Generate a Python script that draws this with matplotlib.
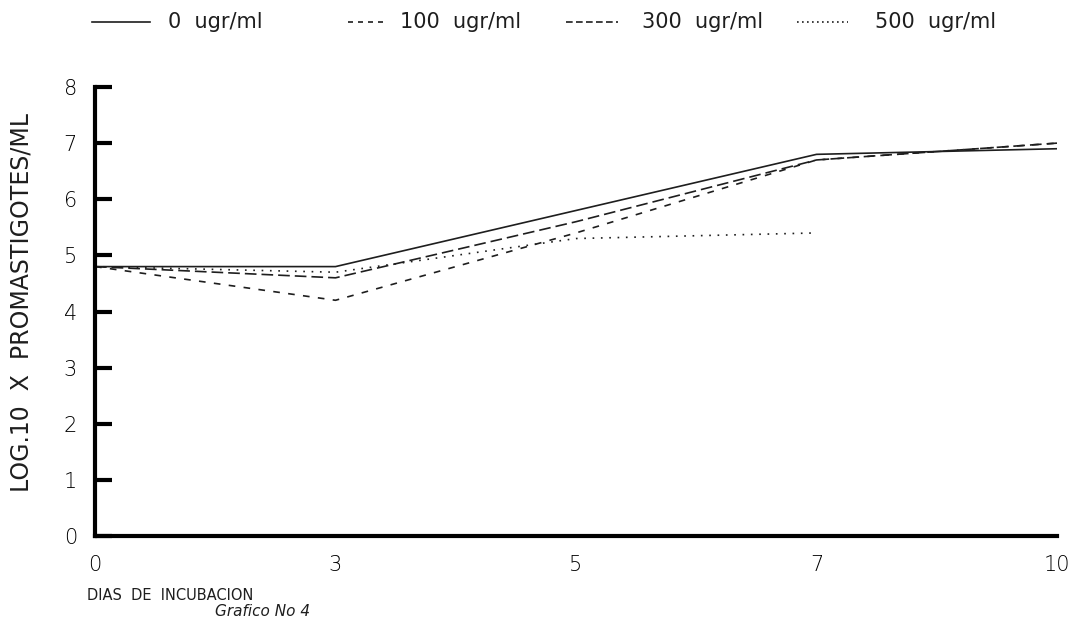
"""
    Grafico No 4 - crecimiento de promastigotes por concentracion
"""
import matplotlib
matplotlib.use('Agg')
import matplotlib.pyplot as plt
import numpy as np
from matplotlib.lines import Line2D

dias = ['0', '3', '5', '7', '10']
c0 = [4.8, 4.8, 5.8, 6.8, 6.9]
c100 = [4.8, 4.2, 5.4, 6.7, 7.0]
c300 = [4.8, 4.6, 5.6, 6.7, 7.0]
c500 = [4.8, 4.7, 5.3, 5.4]        # sin dato a los 10 dias
y_tick = [0, 1, 2, 3, 4, 5, 6, 7, 8]
etiquetas = ['0  ugr/ml', '100  ugr/ml', '300  ugr/ml', '500  ugr/ml']

plt.rcParams['font.family'] = ['DejaVu Sans']
ink = '#1e1e1e'
W, H = 1081, 622

fig = plt.figure(figsize=(W / 100, H / 100), dpi=100)
ax = fig.add_axes([95 / W, 1 - 536 / H, (1057 - 95) / W, (536 - 87) / H])

estilos = ['-', (0, (4, 5)), (0, (7, 3)), (0, (1, 4))]
series = [c0, c100, c300, c500]
x = np.arange(len(dias))
for s, ls in zip(series, estilos):
    ax.plot(x[:len(s)], s, c=ink, lw=1.2, ls=ls)

ax.set_xlim(0, len(dias) - 1)
ax.set_ylim(0, 8)
for s in ['top', 'right']:
    ax.spines[s].set_visible(False)
for s in ['left', 'bottom']:
    ax.spines[s].set_linewidth(3)
    ax.spines[s].set_color('black')

ax.set_xticks(x)
ax.set_xticklabels(dias, fontsize=15, color='black', fontweight='light')
ax.set_xticks([1, 2, 3], minor=True)
ax.tick_params(axis='x', which='major', length=0, pad=14)
ax.tick_params(axis='x', which='minor', direction='in', length=9, width=2.2)

ax.set_yticks(y_tick)
ax.set_yticklabels([str(v) for v in y_tick], fontsize=15, color='black', fontweight='light')
ax.tick_params(axis='y', which='major', direction='in', length=12, width=3, pad=13)

fig.text(22 / W, 1 - 302 / H, 'LOG.10  X  PROMASTIGOTES/ML', rotation=90, fontsize=17,
         color=ink, ha='center', va='center')
fig.text(87 / W, 1 - 595 / H, 'DIAS  DE  INCUBACION', fontsize=10.5, color=ink,
         ha='left', va='center')
fig.text(215 / W, 1 - 612 / H, 'Grafico No 4', fontsize=11, color=ink, style='italic',
         ha='left', va='center')

# leyenda superior, dibujada a mano
xs_linea = [(92, 150), (348, 386), (566, 618), (797, 848)]
xs_texto = [168, 400, 642, 875]
estilos_ley = ['-', (0, (3, 3)), (0, (4, 2)), (0, (1, 2))]
y_ley = 1 - 22 / H
for (a, b), xt, ls, et in zip(xs_linea, xs_texto, estilos_ley, etiquetas):
    fig.add_artist(Line2D([a / W, b / W], [y_ley, y_ley], c=ink, lw=1.2, ls=ls))
    fig.text(xt / W, y_ley, et, fontsize=15, color=ink, ha='left', va='center')

fig.savefig('out.png', dpi=100)
